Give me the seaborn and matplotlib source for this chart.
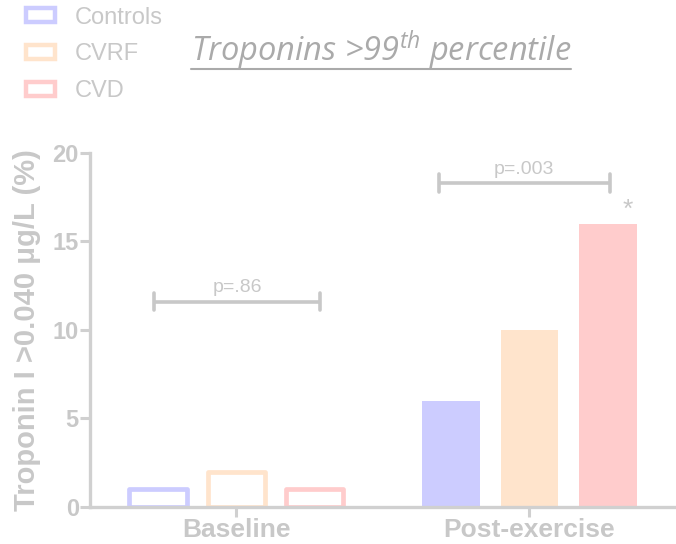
import matplotlib
matplotlib.use("Agg")
import matplotlib.pyplot as plt
from matplotlib.patches import Patch
from matplotlib.lines import Line2D
import seaborn as sns
import pandas as pd

# Data
phases = ["Baseline", "Post-exercise"]
groups = ["Controls", "CVRF", "CVD"]
baseline_pct = [1, 2, 1]
post_pct = [6, 10, 16]
y_ticks = [0, 5, 10, 15, 20]
p_labels = ["p=.86", "p=.003"]

colors = ["#CCCCFF", "#FFE4CC", "#FFCCCC"]
grey = "#C8C8C8"
axis_grey = "#D0D0D0"

df = pd.DataFrame({
    "phase": [phases[0]] * 3 + [phases[1]] * 3,
    "group": groups * 2,
    "pct": baseline_pct + post_pct,
})

sns.set_theme(style="white")
plt.rcParams["font.family"] = ["Liberation Sans", "DejaVu Sans"]
plt.rcParams["mathtext.fontset"] = "custom"
plt.rcParams["mathtext.rm"] = "Open Sans:italic"
plt.rcParams["mathtext.it"] = "Open Sans:italic"

fig = plt.figure(figsize=(6.76, 5.44), dpi=100)
ax = fig.add_axes([0.133, 0.068, 0.867, 0.651])

sns.barplot(data=df, x="phase", y="pct", hue="group", hue_order=groups,
            palette=colors, width=0.8, gap=0.26, ax=ax, legend=False,
            edgecolor="none", saturation=1)

# Baseline bars drawn as outlines only
for i, cont in enumerate(ax.containers):
    bar = cont.patches[0]
    bar.set_facecolor("white")
    bar.set_edgecolor(colors[i])
    bar.set_linewidth(3.4)
    bar.set_joinstyle("round")

ax.set_xlim(-0.5, 1.5)
ax.set_ylim(0, 20)
ax.set_yticks(y_ticks)
ax.set_yticklabels([str(t) for t in y_ticks])
ax.set_xlabel("")
ax.set_ylabel("Troponin I >0.040 μg/L (%)", fontsize=21, fontweight="bold",
              color=grey, labelpad=8)

for s in ["top", "right"]:
    ax.spines[s].set_visible(False)
for s in ["left", "bottom"]:
    ax.spines[s].set_color(axis_grey)
    ax.spines[s].set_linewidth(2.4)
ax.tick_params(axis="both", which="both", direction="out", length=7, width=2.2,
               color=axis_grey, left=True, bottom=True)
ax.tick_params(axis="y", labelsize=17, labelcolor=grey, pad=1)
ax.tick_params(axis="x", labelsize=19, labelcolor=grey, pad=1)
for lab in ax.get_xticklabels() + ax.get_yticklabels():
    lab.set_fontweight("bold")

# Significance brackets
def bracket(x0, x1, y, label):
    ax.plot([x0, x1], [y, y], color=grey, lw=2.6, solid_capstyle="butt", clip_on=False)
    for xx in (x0, x1):
        ax.plot([xx, xx], [y - 0.5, y + 0.5], color=grey, lw=2.6,
                solid_capstyle="round", clip_on=False)
    ax.text((x0 + x1) / 2, y + 0.3, label, ha="center", va="bottom",
            fontsize=14, color=grey)

bracket(-0.28, 0.285, 11.6, p_labels[0])
bracket(0.69, 1.275, 18.3, p_labels[1])
ax.text(1.335, 16.1, "*", ha="center", va="bottom", fontsize=19, color=grey)

# Legend
handles = [Patch(facecolor="white", edgecolor=c, linewidth=3.2, label=g)
           for g, c in zip(groups, colors)]
leg = fig.legend(handles=handles, loc="upper left", bbox_to_anchor=(0.025, 1.005),
                 frameon=False, fontsize=17, handlelength=1.2, handleheight=0.55,
                 handletextpad=0.85, labelspacing=0.62, borderaxespad=0)
for t in leg.get_texts():
    t.set_color(grey)

# Title with underline
title = fig.text(0.564, 0.908, r"Troponins >99$^{th}$ percentile", ha="center",
                 va="center", fontsize=23.5, style="italic", family="Open Sans",
                 color="#AAAAAA")
fig.canvas.draw()
bb = title.get_window_extent(renderer=fig.canvas.get_renderer())
inv = fig.transFigure.inverted()
(x0, y0), (x1, _) = inv.transform([(bb.x0, bb.y0), (bb.x1, bb.y1)])
fig.add_artist(Line2D([x0, x1], [y0 + 0.005, y0 + 0.005], transform=fig.transFigure,
                      color="#AAAAAA", lw=1.5))

fig.savefig("out.png", dpi=100, facecolor="white")
